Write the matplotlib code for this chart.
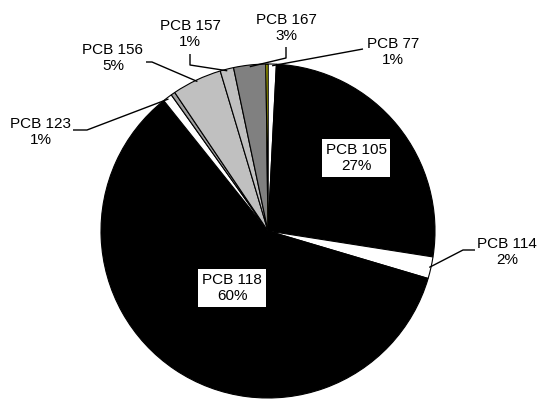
import matplotlib
matplotlib.use('Agg')
import matplotlib.pyplot as plt
import numpy as np

# ---- data ----
names = ['PCB 77', 'PCB 105', 'PCB 114', 'PCB 118', 'PCB 123', 'PCB 126',
         'PCB 156', 'PCB 157', 'PCB 167', 'PCB 169']
values = [0.8, 26.6, 2.1, 59.5, 0.9, 0.4, 4.8, 1.3, 3.1, 0.2]
colors = ['white', 'black', 'white', 'black', 'white', '#a0a0a0',
          '#c0c0c0', '#c0c0c0', '#808080', '#ffff00']
labelled = ['PCB 77', 'PCB 105', 'PCB 114', 'PCB 118', 'PCB 123',
            'PCB 156', 'PCB 157', 'PCB 167']

# ---- layout (image pixel coordinates, y from top) ----
W, H = 539, 400
CX, CY, R = 268, 231, 167
label_pos = {
    'PCB 77': (393, 52), 'PCB 105': (356, 158), 'PCB 114': (507, 252),
    'PCB 118': (232, 288), 'PCB 123': (41, 132), 'PCB 156': (113, 58),
    'PCB 157': (190, 34), 'PCB 167': (286, 28),
}
leader_pts = {
    'PCB 77': [(363, 49)],
    'PCB 167': [(286, 47), (286, 58)],
    'PCB 157': [(190, 54), (190, 65)],
    'PCB 156': [(146, 62), (152, 62)],
    'PCB 123': [(73, 130), (87, 130)],
    'PCB 114': [(475, 250), (463, 250)],
}
inside = ['PCB 105', 'PCB 118']

def fy(y):
    return H - y

fig = plt.figure(figsize=(W / 100, H / 100), dpi=100)
ax = fig.add_axes([0, 0, 1, 1])
wedges, _ = ax.pie(values, colors=colors, startangle=90, counterclock=False,
                   center=(CX, fy(CY)), radius=R,
                   wedgeprops=dict(edgecolor='black', linewidth=0.8))
ax.set_xlim(0, W)
ax.set_ylim(0, H)
ax.set_aspect('equal')
ax.axis('off')

total = sum(values)
font = dict(family=['Liberation Sans', 'DejaVu Sans'], fontsize=11, color='black')
for name, w in zip(names, wedges):
    if name not in labelled:
        continue
    pct = int(round(values[names.index(name)] / total * 100))
    tx, ty = label_pos[name]
    txt = f'{name}\n{pct}%'
    if name in inside:
        ax.text(tx, fy(ty), txt, ha='center', va='center', linespacing=1.15,
                bbox=dict(boxstyle='square,pad=0.25', fc='white', ec='none'), **font)
    else:
        ax.text(tx, fy(ty), txt, ha='center', va='center', linespacing=1.15, **font)
        mid = np.deg2rad((w.theta1 + w.theta2) / 2)
        ax_ = CX + R * 0.99 * np.cos(mid)
        ay_ = fy(CY) + R * 0.99 * np.sin(mid)
        pts = [(x, fy(y)) for x, y in leader_pts[name]] + [(ax_, ay_)]
        xs, ys = zip(*pts)
        ax.plot(xs, ys, color='black', linewidth=1.0, solid_capstyle='butt')

fig.savefig('out.png', dpi=100)
